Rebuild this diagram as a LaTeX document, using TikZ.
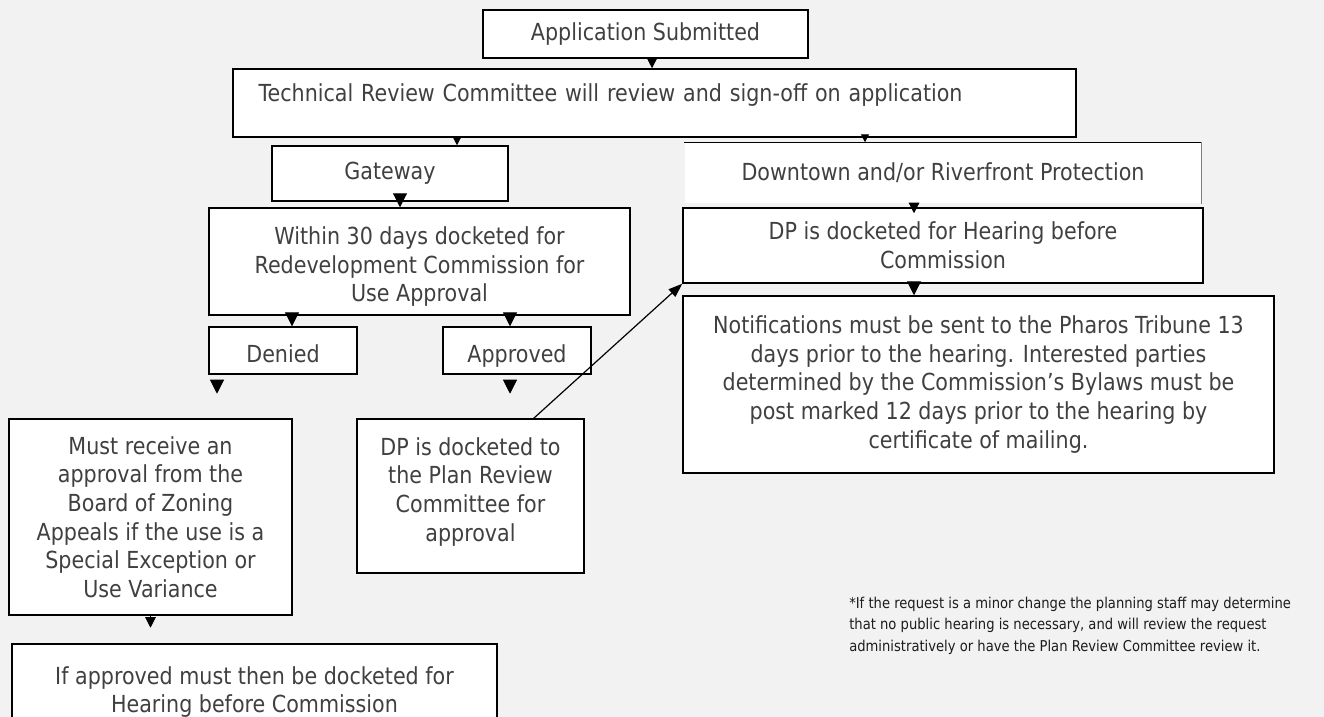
\documentclass[tikz,border=0pt]{standalone}
\usepackage{fontspec}
\setmainfont{DejaVu Sans}[FakeStretch=0.88]
\usetikzlibrary{arrows.meta}
\definecolor{bggray}{RGB}{242,242,242}
\definecolor{txtgray}{RGB}{64,64,64}
\definecolor{notegray}{RGB}{28,28,28}

\begin{document}
\begin{tikzpicture}[x=0.75pt,y=-0.75pt]
	\tikzstyle{box}=[rectangle,draw,fill=white,line width=1.1pt,text=txtgray,align=center,inner sep=0pt,font=\fontsize{17.6}{21.5}\selectfont]
	\tikzstyle{low}=[text height=18pt,text depth=0pt]
	\tikzstyle{note}=[align=left,inner sep=0pt,text=notegray,font=\fontsize{11.2}{16}\selectfont]
	\tikzstyle{tipS}=[-{Triangle[width=6pt,length=6pt]},line width=0.8pt]
	\tikzstyle{tipM}=[-{Triangle[width=8pt,length=8pt]},line width=0.8pt]
	\tikzstyle{tipL}=[-{Triangle[width=10.5pt,length=10.5pt]},line width=0.8pt]
	\useasboundingbox (0,0) rectangle (1324,717);
	\clip (0,0) rectangle (1324,717);
	\fill[bggray] (0,0) rectangle (1324,717);
	% boxes
	\node[box,minimum width=243.75pt,minimum height=36pt] (A) at (645.5,34){Application Submitted};
	\node[box,align=left,text width=594pt,inner xsep=18.75pt,text height=12pt,text depth=15pt,minimum width=632.25pt,minimum height=51pt] (T) at (654.5,103){Technical Review Committee will review and sign-off on application};
	\node[box,minimum width=177pt,minimum height=41.25pt] (G) at (390,173.5){Gateway};
	\node[box,draw=none,minimum width=387pt,minimum height=45pt] (D) at (943,173){Downtown and/or Riverfront Protection};
	\draw[line width=1.1pt] (D.north west) -- (D.north east);
	\draw[gray,line width=0.6pt] (D.north east) -- (D.south east);
	\node[box,minimum width=315.75pt,minimum height=80.25pt] (W) at (419.5,261.5){\rule{0pt}{21pt}Within 30 days docketed for\\Redevelopment Commission for\\Use Approval};
	\node[box,minimum width=390pt,minimum height=56.25pt] (H) at (943,245.5){DP is docketed for Hearing before\\Commission};
	\node[box,low,minimum width=111pt,minimum height=35.25pt] (N) at (283,350.5){Denied};
	\node[box,low,minimum width=111pt,minimum height=35.25pt] (P) at (517,350.5){Approved};
	\node[box,minimum width=443.25pt,minimum height=132.75pt] (F) at (978.5,384.5){Notifications must be sent to the Pharos Tribune 13\\days prior to the hearing. Interested parties\\determined by the Commission’s Bylaws must be\\post marked 12 days prior to the hearing by\\certificate of mailing.};
	\node[box,minimum width=212.25pt,minimum height=147pt] (M) at (150.5,517){Must receive an\\approval from the\\Board of Zoning\\Appeals if the use is a\\Special Exception or\\Use Variance};
	\node[box,minimum width=170.25pt,minimum height=115.5pt] (R) at (470.5,496){DP is docketed to\\the Plan Review\\Committee for\\approval\rule[-10pt]{0pt}{10pt}};
	\node[box,minimum width=363.75pt,minimum height=72pt] (I) at (254.5,692){If approved must then be docketed for\\Hearing before Commission};
	\node[note,anchor=north west] (S) at (849,597){*If the request is a minor change the planning staff may determine\\that no public hearing is necessary, and will review the request\\administratively or have the Plan Review Committee review it.};
	% arrows
	\draw[tipM] ([xshift=4.9pt]A.south) -- ([xshift=4.9pt]A.south |- T.north);
	\draw[tipS] ([xshift=50.25pt]G.north |- T.south) -- ([xshift=50.25pt]G.north);
	\draw[tipS] ([xshift=-58.5pt]D.north |- T.south) -- ([xshift=-58.5pt]D.north);
	\draw[tipL] ([xshift=7.5pt]G.south) -- ([xshift=7.5pt]G.south |- W.north);
	\draw[tipM,shorten >=-4.5pt] ([xshift=-21.75pt]D.south) -- ([xshift=-21.75pt]D.south |- H.north);
	\draw[tipL] ([xshift=-21.75pt]H.south) -- ([xshift=-21.75pt]H.south |- F.north);
	\draw[tipL] ([xshift=6.75pt]N.north |- W.south) -- ([xshift=6.75pt]N.north);
	\draw[tipL] ([xshift=-5.25pt]P.north |- W.south) -- ([xshift=-5.25pt]P.north);
	\draw[tipL,shorten <=3.75pt] ([xshift=-49.5pt]N.south) -- ++(0,19);
	\draw[tipL,shorten <=3.75pt] ([xshift=-5.25pt]P.south) -- ++(0,19);
	\draw[tipM] (M.south) -- ++(0,12);
	\draw[-{Triangle[width=7.5pt,length=10.5pt]},line width=0.9pt] ([xshift=-38.25pt]R.north east) -- (H.south west);
\end{tikzpicture}
\end{document}
